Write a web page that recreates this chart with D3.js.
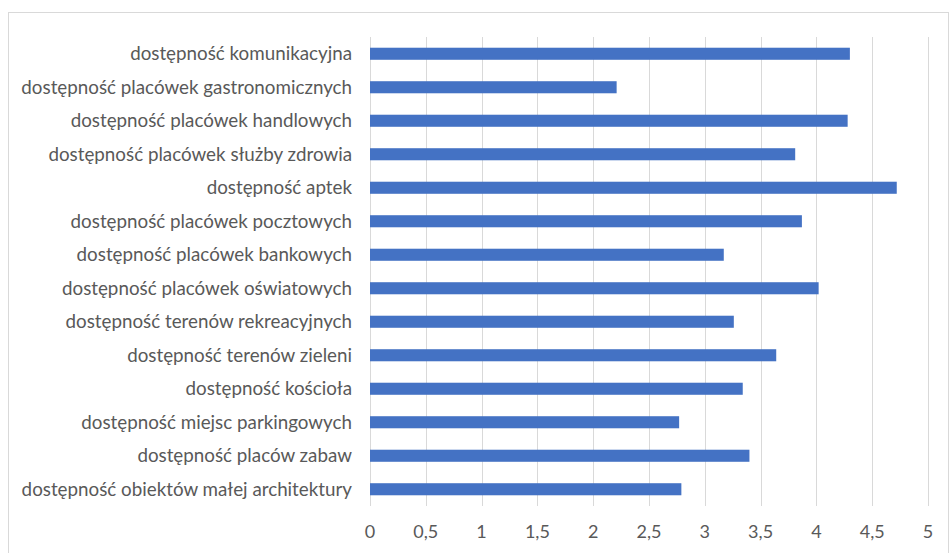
<!DOCTYPE html>
<html>
<head>
<meta charset="utf-8">
<script src="https://cdn.jsdelivr.net/npm/d3@7"></script>
<style>
  html, body { margin: 0; padding: 0; background: #fff; }
  svg { display: block; }
  text { font-family: Lato, "Open Sans", sans-serif; fill: #595959; }
</style>
</head>
<body>
<svg id="chart" width="950" height="553"></svg>
<script>
const categories = [
  "dostępność komunikacyjna",
  "dostępność placówek gastronomicznych",
  "dostępność placówek handlowych",
  "dostępność placówek służby zdrowia",
  "dostępność aptek",
  "dostępność placówek pocztowych",
  "dostępność placówek bankowych",
  "dostępność placówek oświatowych",
  "dostępność terenów rekreacyjnych",
  "dostępność terenów zieleni",
  "dostępność kościoła",
  "dostępność miejsc parkingowych",
  "dostępność placów zabaw",
  "dostępność obiektów małej architektury"
];
const values = [4.30, 2.21, 4.28, 3.81, 4.72, 3.87, 3.17, 4.02, 3.26, 3.64, 3.34, 2.77, 3.40, 2.79];
const tickValues = [0, 0.5, 1, 1.5, 2, 2.5, 3, 3.5, 4, 4.5, 5];
const tickLabels = ["0", "0,5", "1", "1,5", "2", "2,5", "3", "3,5", "4", "4,5", "5"];

const svg = d3.select("#chart");
const W = 950, H = 553;
const plot = { left: 370, right: 928, top: 37, bottom: 506 };

// outer chart border
svg.append("rect")
  .attr("x", 8.5).attr("y", 12.5)
  .attr("width", W - 10).attr("height", H - 10)
  .attr("fill", "none").attr("stroke", "#d9d9d9").attr("stroke-width", 1);

const x = d3.scaleLinear().domain([0, 5]).range([plot.left, plot.right]);
const y = d3.scaleBand().domain(categories).range([plot.top, plot.bottom]).paddingInner(0.64).paddingOuter(0.32);

// vertical gridlines
svg.append("g").selectAll("line").data(tickValues).join("line")
  .attr("x1", d => Math.round(x(d)) + 0.5).attr("x2", d => Math.round(x(d)) + 0.5)
  .attr("y1", plot.top).attr("y2", plot.bottom)
  .attr("stroke", "#d9d9d9").attr("stroke-width", 1);

// bars
svg.append("g").selectAll("rect").data(values).join("rect")
  .attr("x", x(0))
  .attr("y", (d, i) => y(categories[i]))
  .attr("width", d => x(d) - x(0))
  .attr("height", y.bandwidth())
  .attr("fill", "#4472c4");

// category labels
svg.append("g").selectAll("text").data(categories).join("text")
  .attr("x", 352)
  .attr("y", d => y(d) + y.bandwidth() / 2)
  .attr("dy", "0.35em")
  .attr("text-anchor", "end")
  .attr("font-size", 18.8)
  .text(d => d);

// x-axis tick labels
svg.append("g").selectAll("text").data(tickValues).join("text")
  .attr("x", d => x(d))
  .attr("y", 532)
  .attr("dy", "0.35em")
  .attr("text-anchor", "middle")
  .attr("font-size", 18)
  .text((d, i) => tickLabels[i]);
</script>
</body>
</html>
